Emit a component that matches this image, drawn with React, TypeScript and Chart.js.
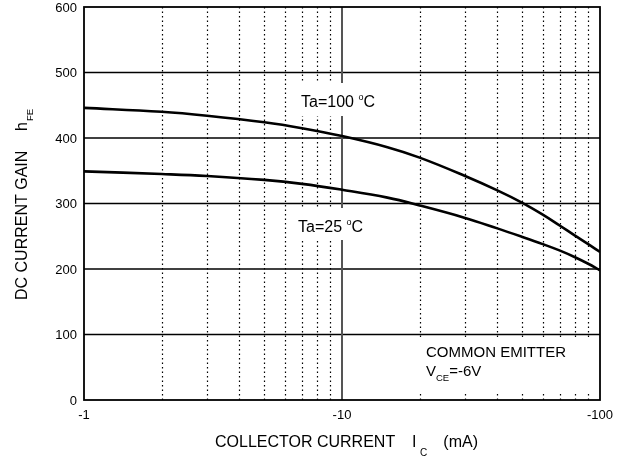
import React, { useEffect, useRef } from "react";
import { Chart, registerables } from "chart.js";

Chart.register(...registerables);

// Collector current magnitude (mA); axis is labelled with negative values
const currentMA = [1, 2, 3, 5, 7, 10, 15, 20, 30, 40, 50, 60, 70, 80, 90, 100];
const hfeTa100 = [446, 440, 434, 424, 415, 403, 386, 370, 342, 320, 301, 283, 266, 251, 238, 226];
const hfeTa25 = [349, 345, 342, 336, 330, 321, 309, 297, 278, 262, 249, 238, 228, 218, 208, 198];

const yTicks = [0, 100, 200, 300, 400, 500, 600];
const xMajorTicks = [1, 10, 100];
const xMajorLabels = ["-1", "-10", "-100"];
const xMinorTicks = [2, 3, 4, 5, 6, 7, 8, 9, 20, 30, 40, 50, 60, 70, 80, 90];

const FONT = '"Liberation Sans", Arial, Helvetica, sans-serif';

type Part = { text: string; size: number; dy?: number };

function drawRich(ctx: CanvasRenderingContext2D, parts: Part[], x: number, y: number) {
  let cx = x;
  for (const p of parts) {
    ctx.font = `${p.size}px ${FONT}`;
    ctx.fillText(p.text, cx, y + (p.dy || 0));
    cx += ctx.measureText(p.text).width;
  }
}

const gridPlugin = {
  id: "datasheetGrid",
  beforeDatasetsDraw(chart: any) {
    const { ctx, chartArea: a, scales } = chart;
    const xs = scales.x;
    const ys = scales.y;
    ctx.save();
    // dotted minor verticals
    ctx.strokeStyle = "#000";
    ctx.lineWidth = 1.2;
    ctx.setLineDash([1.4, 3.1]);
    for (const v of xMinorTicks) {
      const px = Math.round(xs.getPixelForValue(v)) + 0.5;
      ctx.beginPath();
      ctx.moveTo(px, a.top);
      ctx.lineTo(px, a.bottom);
      ctx.stroke();
    }
    ctx.setLineDash([]);
    // horizontal grid
    ctx.lineWidth = 1.4;
    for (const v of yTicks) {
      if (v === 0 || v === 600) continue;
      const py = ys.getPixelForValue(v);
      ctx.beginPath();
      ctx.moveTo(a.left, py);
      ctx.lineTo(a.right, py);
      ctx.stroke();
    }
    // middle decade line
    ctx.strokeStyle = "#555";
    ctx.lineWidth = 2;
    const p10 = xs.getPixelForValue(10);
    ctx.beginPath();
    ctx.moveTo(p10, a.top);
    ctx.lineTo(p10, a.bottom);
    ctx.stroke();
    // white label backgrounds
    ctx.fillStyle = "#fff";
    ctx.fillRect(291, 83, 94, 33);
    ctx.fillRect(291, 208, 84, 32);
    ctx.fillRect(352, 337, a.right - 353, 55);
    // frame
    ctx.strokeStyle = "#000";
    ctx.lineWidth = 1.8;
    ctx.strokeRect(a.left, a.top, a.right - a.left, a.bottom - a.top);
    ctx.restore();
  },
  afterDatasetsDraw(chart: any) {
    const { ctx, scales } = chart;
    const xs = scales.x;
    const ys = scales.y;
    ctx.save();
    ctx.fillStyle = "#000";
    ctx.textBaseline = "alphabetic";
    // y tick labels
    ctx.font = `13px ${FONT}`;
    ctx.textAlign = "right";
    for (const v of yTicks) {
      ctx.fillText(String(v), 77, ys.getPixelForValue(v) + 4.6);
    }
    // x tick labels
    ctx.textAlign = "center";
    xMajorTicks.forEach((v, i) => {
      ctx.fillText(xMajorLabels[i], xs.getPixelForValue(v), 419);
    });
    ctx.textAlign = "left";
    // curve labels
    drawRich(ctx, [{ text: "Ta=100 ", size: 16 }, { text: "o", size: 9, dy: -7.5 }, { text: "C", size: 16 }], 301, 107);
    drawRich(ctx, [{ text: "Ta=25 ", size: 16 }, { text: "o", size: 9, dy: -7.5 }, { text: "C", size: 16 }], 298, 232);
    // conditions
    drawRich(ctx, [{ text: "COMMON EMITTER", size: 15 }], 426, 356.5);
    drawRich(ctx, [{ text: "V", size: 15 }, { text: "CE", size: 9.5, dy: 5.5 }, { text: "=-6V", size: 15 }], 426, 375.5);
    // x title
    drawRich(ctx, [{ text: "COLLECTOR CURRENT", size: 16 }], 215, 446.7);
    drawRich(ctx, [{ text: "I", size: 16 }], 412, 446.7);
    drawRich(ctx, [{ text: "C", size: 10 }], 420, 456);
    drawRich(ctx, [{ text: "(mA)", size: 16 }], 443.3, 446.7);
    // y title
    ctx.translate(26.5, 300);
    ctx.rotate(-Math.PI / 2);
    drawRich(ctx, [{ text: "DC CURRENT GAIN", size: 16 }], 0, 0);
    drawRich(ctx, [{ text: "h", size: 16 }], 169, 0);
    drawRich(ctx, [{ text: "FE", size: 9.5, dy: 6 }], 179, 0);
    ctx.restore();
  },
};

export default function App() {
  const canvasRef = useRef<HTMLCanvasElement | null>(null);

  useEffect(() => {
    const canvas = canvasRef.current;
    if (!canvas) return;
    const mk = (ys: number[]) => currentMA.map((x, i) => ({ x, y: ys[i] }));
    const chart = new Chart(canvas, {
      type: "scatter",
      data: {
        datasets: [
          {
            label: "Ta=100 °C",
            data: mk(hfeTa100),
            showLine: true,
            borderColor: "#000",
            borderWidth: 2.6,
            pointRadius: 0,
            tension: 0.4,
            fill: false,
          },
          {
            label: "Ta=25 °C",
            data: mk(hfeTa25),
            showLine: true,
            borderColor: "#000",
            borderWidth: 2.6,
            pointRadius: 0,
            tension: 0.4,
            fill: false,
          },
        ],
      },
      options: {
        animation: false,
        responsive: false,
        maintainAspectRatio: false,
        events: [],
        layout: { padding: { left: 84, top: 7, right: 27, bottom: 57 } },
        plugins: {
          legend: { display: false },
          tooltip: { enabled: false },
          title: { display: false },
        },
        scales: {
          x: { type: "logarithmic", min: 1, max: 100, display: false },
          y: { type: "linear", min: 0, max: 600, display: false },
        },
      },
      plugins: [gridPlugin],
    } as any);
    return () => chart.destroy();
  }, []);

  return (
    <div style={{ position: "absolute", left: 0, top: 0, width: 627, height: 457, background: "#fff" }}>
      <canvas ref={canvasRef} width={627} height={457} style={{ width: 627, height: 457, display: "block" }} />
    </div>
  );
}
